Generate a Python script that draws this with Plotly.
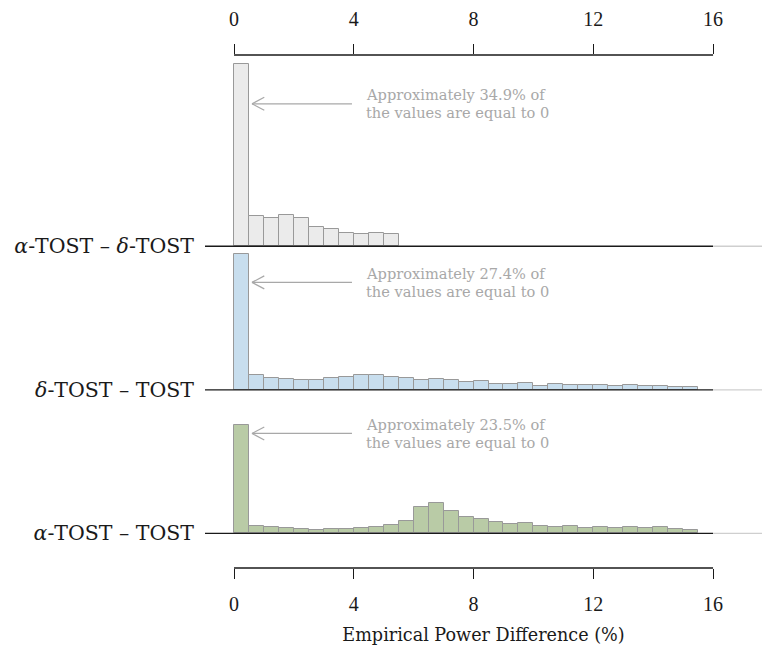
import plotly.graph_objects as go

# Histogram bins: width 0.5 over [0, 16)
bin_width = 0.5
n_bins = 32
bin_centers = [bin_width * (i + 0.5) for i in range(n_bins)]

# Relative frequencies per bin for each comparison
alpha_vs_delta = [35.0, 5.8, 5.4, 6.0, 5.4, 3.7, 3.3, 2.5, 2.3, 2.5, 2.3]
delta_vs_tost = [26.2, 2.9, 2.2, 2.0, 1.9, 1.9, 2.2, 2.5, 2.9, 2.9, 2.4, 2.2,
                 1.9, 2.0, 1.8, 1.5, 1.6, 1.2, 1.2, 1.4, 0.8, 1.2, 0.9, 0.9,
                 1.0, 0.8, 1.0, 0.8, 0.8, 0.6, 0.45]
alpha_vs_tost = [20.9, 1.5, 1.3, 1.1, 0.8, 0.7, 0.9, 0.9, 1.0, 1.2, 1.6, 2.4,
                 5.0, 5.9, 4.2, 3.1, 2.7, 2.2, 1.7, 1.9, 1.4, 1.3, 1.5, 1.0,
                 1.3, 1.0, 1.2, 1.1, 1.2, 0.9, 0.7]

ridge_labels = ["<i>α</i>-TOST – <i>δ</i>-TOST",
                "<i>δ</i>-TOST – TOST",
                "<i>α</i>-TOST – TOST"]
zero_share = [34.9, 27.4, 23.5]
x_ticks = [0, 4, 8, 12, 16]

# Layout geometry
W, H = 762, 652
ML, MR, MT, MB = 205, 0, 55, 84
x_range = [-0.969, 17.635]
y_range = [-6.67, 91.98]
spacing = 27.6
offsets = [2 * spacing, spacing, 0.0]
note_heights = [27.4, 20.65, 19.2]

px_per_x = (W - ML - MR) / (x_range[1] - x_range[0])
px_per_y = (H - MT - MB) / (y_range[1] - y_range[0])

fills = ["#ebebeb", "#c8deee", "#b9cba6"]
edge = "#999999"
serif = "Liberation Serif"
text_serif = "DejaVu Serif"
ink = "#1a1a1a"

fig = go.Figure()
series = [alpha_vs_delta, delta_vs_tost, alpha_vs_tost]
for vals, off, fill in zip(series, offsets, fills):
    fig.add_trace(go.Bar(
        x=bin_centers[:len(vals)], y=vals, base=[off] * len(vals),
        width=bin_width, marker=dict(color=fill, line=dict(color=edge, width=1)),
        showlegend=False, hoverinfo="skip"))

# invisible trace to carry the top axis
fig.add_trace(go.Scatter(x=[0], y=[0], xaxis="x2", mode="markers",
                         marker=dict(opacity=0), showlegend=False, hoverinfo="skip"))

# baseline rules: dark up to 16, light beyond
shapes = []
for off in offsets:
    shapes.append(dict(type="line", xref="x", yref="y", x0=x_range[0], x1=16,
                       y0=off, y1=off, line=dict(color=ink, width=1.3),
                       layer="above"))
    shapes.append(dict(type="line", xref="x", yref="y", x0=16, x1=x_range[1],
                       y0=off, y1=off, line=dict(color="#cfcfcf", width=1.3),
                       layer="above"))
# capped axis lines top and bottom
for yp in (0, 1):
    shapes.append(dict(type="line", xref="x", yref="paper", x0=0, x1=16,
                       y0=yp, y1=yp, line=dict(color=ink, width=1.3)))

# annotation arrows with open heads
arrow_col = "#a8a8a8"
tail_x = 3.94
head_x = 0.6
arm_dx = 12.3 / px_per_x
arm_dy = 6.5 / px_per_y
line_dy = 8.8 / px_per_y
annotations = []
for off, nh, share in zip(offsets, note_heights, zero_share):
    y = off + nh
    shapes.append(dict(type="line", xref="x", yref="y", x0=tail_x, x1=head_x,
                       y0=y, y1=y, line=dict(color=arrow_col, width=1.2)))
    for s in (1, -1):
        shapes.append(dict(type="line", xref="x", yref="y", x0=head_x,
                           x1=head_x + arm_dx, y0=y, y1=y + s * arm_dy,
                           line=dict(color=arrow_col, width=1.2)))
    for txt, dy in ((f"Approximately {share}% of", line_dy),
                    ("the values are equal to 0", -line_dy)):
        annotations.append(dict(
            xref="x", yref="y", x=4.38, y=y + dy, xanchor="left",
            yanchor="middle", align="left", showarrow=False, text=txt,
            borderpad=0,
            font=dict(family=text_serif, size=14.6, color="#a8a8a8")))

fig.update_layout(
    width=W, height=H,
    margin=dict(l=ML, r=MR, t=MT, b=MB),
    plot_bgcolor="white", paper_bgcolor="white",
    barmode="overlay", bargap=0,
    shapes=shapes, annotations=annotations,
    xaxis=dict(range=x_range, tickvals=x_ticks, ticks="outside", ticklen=10,
               tickwidth=1.3, tickcolor=ink, showgrid=False,
               zeroline=False, showline=False, ticklabelstandoff=8,
               tickfont=dict(family=serif, size=20, color=ink),
               title=dict(text="Empirical Power Difference (%)", standoff=14,
                          font=dict(family=text_serif, size=17.6, color=ink))),
    xaxis2=dict(range=x_range, overlaying="x", side="top", matches="x",
                tickvals=x_ticks, ticks="outside", ticklen=10, tickwidth=1.3,
                tickcolor=ink, showgrid=False, zeroline=False,
                showline=False, ticklabelstandoff=10,
                tickfont=dict(family=serif, size=20, color=ink)),
    yaxis=dict(range=y_range, tickvals=offsets, ticktext=ridge_labels,
               showgrid=False, zeroline=False, showline=False, ticks="",
               ticklabelstandoff=10,
               tickfont=dict(family=text_serif, size=20.5, color=ink)),
)

fig.write_html("out.html")
